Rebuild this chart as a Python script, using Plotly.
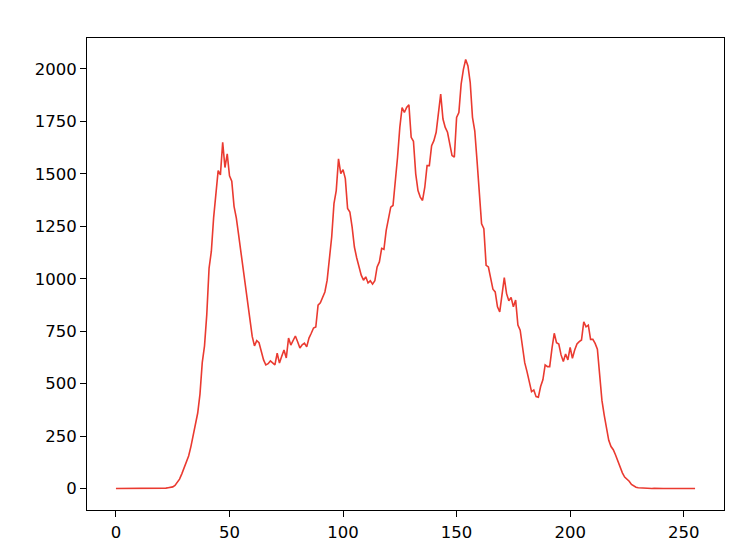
import plotly.graph_objects as go

# histogram bin index 0..255 and counts
bins = list(range(256))
counts = (
    [0] * 22
    + [2, 4, 5, 8, 15, 28, 45, 70, 100, 125,            # 22-31
       155, 200, 255, 300, 360, 450, 600, 680, 830, 1050,  # 32-41
       1130, 1290, 1420, 1515, 1495, 1650, 1530, 1595, 1490, 1465,  # 42-51
       1345, 1290, 1210, 1130, 1030, 960, 880, 800, 725, 680,  # 52-61
       705, 695, 650, 613, 589, 595, 608, 600, 589, 645,  # 62-71
       598, 630, 660, 622, 717, 684, 705, 727, 700, 670,  # 72-81
       685, 693, 675, 717, 740, 765, 770, 874, 885, 910,  # 82-91
       937, 993, 1100, 1199, 1358, 1420, 1571, 1501, 1520, 1477,  # 92-101
       1335, 1318, 1246, 1151, 1100, 1060, 1017, 993, 1009, 980,  # 102-111
       990, 974, 990, 1056, 1080, 1145, 1140, 1230, 1290, 1341,  # 112-121
       1349, 1453, 1579, 1721, 1816, 1792, 1816, 1829, 1674, 1655,  # 122-131
       1500, 1420, 1389, 1373, 1436, 1539, 1539, 1634, 1658, 1698,  # 132-141
       1792, 1880, 1761, 1721, 1698, 1650, 1587, 1579, 1769, 1792,  # 142-151
       1927, 1998, 2045, 2014, 1935, 1769, 1705, 1563, 1405, 1262,  # 152-161
       1238, 1064, 1056, 993, 950, 937, 866, 842, 914, 1005,  # 162-171
       929, 895, 911, 866, 898, 779, 755, 676, 600, 557,  # 172-181
       502, 462, 470, 438, 435, 486, 518, 589, 581, 581,  # 182-191
       668, 740, 695, 689, 637, 605, 641, 613, 673, 621,  # 192-201
       660, 689, 700, 708, 795, 771, 779, 711, 711, 692,  # 202-211
       664, 550, 420, 350, 285, 230, 200, 185, 160, 130,  # 212-221
       100, 75, 55, 45, 35, 20, 12, 6, 4, 3,  # 222-231
       2, 1, 1, 1, 0, 1, 0, 0, 1, 0,  # 232-241
       0, 1, 0, 0, 0, 1, 0, 0, 0, 0,  # 242-251
       0, 1, 0, 0]  # 252-255
)

x_ticks = [0, 50, 100, 150, 200, 250]
y_ticks = [0, 250, 500, 750, 1000, 1250, 1500, 1750, 2000]

fig = go.Figure()
fig.add_trace(go.Scatter(
    x=bins, y=counts, mode="lines",
    line=dict(color="#ea3a30", width=1.6),
    hoverinfo="skip", showlegend=False,
))

pad_x = 0.05 * (max(bins) - min(bins))
pad_y = 0.05 * (max(counts) - min(counts))

axis_common = dict(
    showgrid=False, zeroline=False, showline=True, mirror=True,
    linecolor="#000000", linewidth=1.1,
    ticks="outside", ticklen=6, tickwidth=1.1, tickcolor="#000000",
    tickfont=dict(family="DejaVu Sans", size=16.5, color="#000000"),
)

# page body has an 8px default margin, so the figure is sized to fit
fig.update_layout(
    width=736, height=548,
    paper_bgcolor="white", plot_bgcolor="white",
    margin=dict(l=79, r=20, t=30, b=46),
    xaxis=dict(range=[min(bins) - pad_x, max(bins) + pad_x],
               tickvals=x_ticks, ticklabelstandoff=1, **axis_common),
    yaxis=dict(range=[min(counts) - pad_y, max(counts) + pad_y],
               tickvals=y_ticks, ticklabelstandoff=0, **axis_common),
)

fig.write_html("out.html")
